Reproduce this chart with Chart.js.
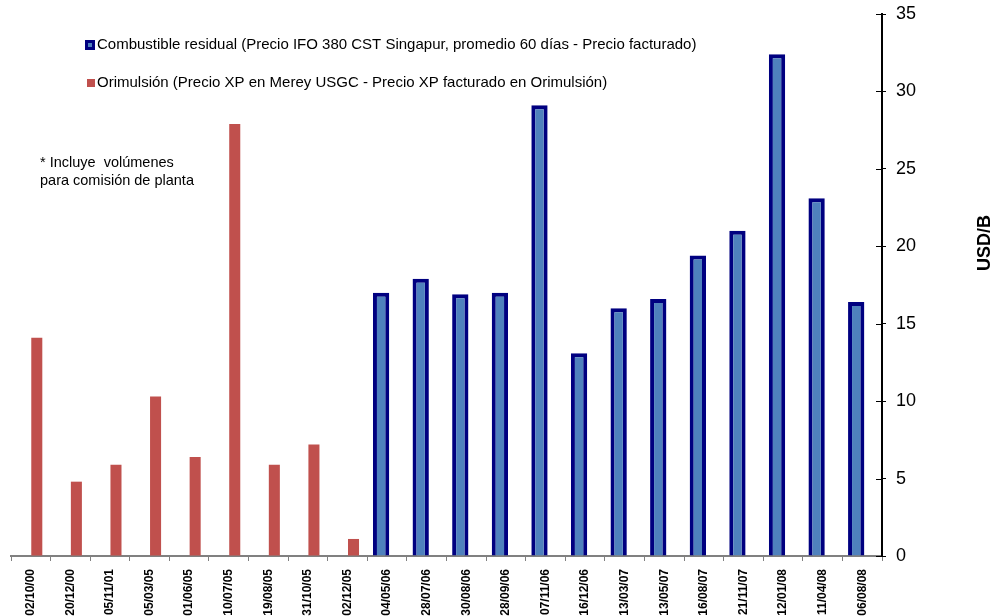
<!DOCTYPE html>
<html>
<head>
<meta charset="utf-8">
<script src="https://cdn.jsdelivr.net/npm/chart.js@4/dist/chart.umd.min.js"></script>
<style>
  html, body { margin: 0; padding: 0; background: #ffffff; }
  #wrap { width: 992px; height: 616px; position: relative; }
</style>
</head>
<body>
<div id="wrap"><canvas id="c" width="992" height="616"></canvas></div>
<script>
// Fechas de cada cargamento
const categories = [
  '02/10/00', '20/12/00', '05/11/01', '05/03/05', '01/06/05', '10/07/05',
  '19/08/05', '31/10/05', '02/12/05', '04/05/06', '28/07/06', '30/08/06',
  '28/09/06', '07/11/06', '16/12/06', '13/03/07', '13/05/07', '16/08/07',
  '21/11/07', '12/01/08', '11/04/08', '06/08/08'
];

// Diferencial combustible residual (USD/B)
const residualValues = [
  null, null, null, null, null, null, null, null, null,
  17.0, 17.9, 16.9, 17.0, 29.1, 13.1, 16.0, 16.6, 19.4, 21.0, 32.4, 23.1, 16.4
];

// Diferencial Orimulsión (USD/B)
const orimulsionValues = [
  14.1, 4.8, 5.9, 10.3, 6.4, 27.9, 5.9, 7.2, 1.1,
  null, null, null, null, null, null, null, null, null, null, null, null, null
];

const seriesLabels = [
  'Combustible residual (Precio IFO 380 CST Singapur, promedio 60 días - Precio facturado)',
  'Orimulsión (Precio XP en Merey USGC - Precio XP facturado en Orimulsión)'
];

const yTicks = [0, 5, 10, 15, 20, 25, 30, 35];
const yTitle = 'USD/B';
const noteLines = ['* Incluye  volúmenes', 'para comisión de planta'];

const FONT = '"Liberation Sans", Arial, sans-serif';

// Leyenda, nota, marcas interiores y título del eje dibujados sobre el lienzo
const overlay = {
  id: 'overlay',
  afterDraw(chart) {
    const ctx = chart.ctx;
    const ys = chart.scales.y;
    ctx.save();
    // marcas del eje derecho hacia el interior
    ctx.strokeStyle = '#000';
    ctx.lineWidth = 1;
    ys.ticks.forEach(t => {
      const py = Math.round(ys.getPixelForValue(t.value)) + 0.5;
      ctx.beginPath();
      ctx.moveTo(ys.left - 6, py);
      ctx.lineTo(ys.left, py);
      ctx.stroke();
    });
    // leyenda
    ctx.textBaseline = 'middle';
    ctx.textAlign = 'left';
    ctx.font = '15px ' + FONT;
    const items = [
      { y: 45, ds: chart.data.datasets[0] },
      { y: 83, ds: chart.data.datasets[1] }
    ];
    items.forEach((it, i) => {
      if (i === 0) {
        ctx.fillStyle = it.ds.borderColor;
        ctx.fillRect(85, it.y - 5, 10, 10);
        ctx.fillStyle = it.ds.backgroundColor;
        ctx.fillRect(88, it.y - 2, 4, 4);
      } else {
        ctx.fillStyle = it.ds.backgroundColor;
        ctx.fillRect(87, it.y - 4, 8, 8);
      }
      ctx.fillStyle = '#000';
      ctx.fillText(it.ds.label, 97, it.y);
    });
    // nota
    ctx.font = '14.5px ' + FONT;
    ctx.fillText(noteLines[0], 40, 163);
    ctx.fillText(noteLines[1], 40, 181);
    // título del eje
    ctx.font = 'bold 18px ' + FONT;
    ctx.translate(985, 243);
    ctx.rotate(-Math.PI / 2);
    ctx.textAlign = 'center';
    ctx.fillText(yTitle, 0, 0);
    ctx.restore();
  }
};

new Chart(document.getElementById('c'), {
  type: 'bar',
  data: {
    labels: categories,
    datasets: [
      {
        label: seriesLabels[0],
        data: residualValues,
        backgroundColor: '#4F81BD',
        borderColor: '#000080',
        borderWidth: 4,
        borderSkipped: 'bottom',
        barPercentage: 1.36,
        categoryPercentage: 0.606
      },
      {
        label: seriesLabels[1],
        data: orimulsionValues,
        backgroundColor: '#C0504D',
        borderWidth: 0,
        barPercentage: 0.92,
        categoryPercentage: 0.606
      }
    ]
  },
  options: {
    responsive: false,
    animation: false,
    layout: { padding: { left: 11, top: 14, right: 0, bottom: 0 } },
    plugins: {
      legend: { display: false },
      tooltip: { enabled: false }
    },
    scales: {
      x: {
        offset: true,
        grid: {
          offset: true,
          drawOnChartArea: false,
          drawTicks: true,
          tickLength: 5,
          color: '#808080'
        },
        border: { display: true, color: '#808080', width: 2 },
        ticks: {
          autoSkip: false,
          maxRotation: 90,
          minRotation: 90,
          color: '#000',
          padding: 8,
          font: { family: FONT, size: 12, weight: 'bold' }
        },
        afterFit(scale) {
          scale.height = 60;
          scale.paddingLeft = 0;
          scale.paddingRight = 0;
        }
      },
      y: {
        position: 'right',
        min: 0,
        max: 35,
        afterBuildTicks(scale) { scale.ticks = yTicks.map(v => ({ value: v })); },
        grid: {
          drawOnChartArea: false,
          drawTicks: true,
          tickLength: 4,
          color: '#000'
        },
        border: { display: true, color: '#000', width: 2 },
        ticks: {
          color: '#000',
          padding: 10,
          font: { family: FONT, size: 18 }
        },
        afterFit(scale) {
          scale.width = 110;
          scale.paddingTop = 0;
          scale.paddingBottom = 0;
        }
      }
    }
  },
  plugins: [overlay]
});
</script>
</body>
</html>
